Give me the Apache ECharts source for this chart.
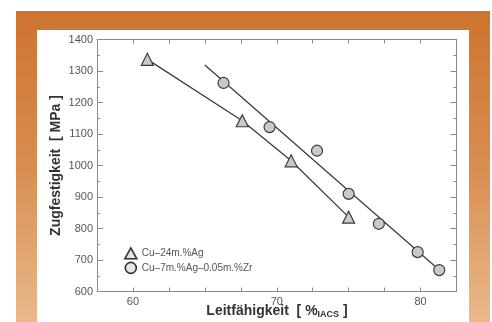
<!DOCTYPE html>
<html>
<head>
<meta charset="utf-8">
<script src="https://cdn.jsdelivr.net/npm/echarts@6/dist/echarts.min.js"></script>
<style>
html,body{margin:0;padding:0;background:#fff;}
#frame{position:absolute;left:16px;top:11px;width:474px;height:311px;background:linear-gradient(to bottom,#CE742E 0%,#D98D50 50%,#E9B98C 100%);}
#panel{position:absolute;left:37px;top:30px;width:432px;height:292px;background:#fff;}
#chart{position:absolute;left:0;top:0;width:492px;height:322px;}
</style>
</head>
<body>
<div id="frame"></div>
<div id="panel"></div>
<div id="chart"></div>
<script>
// Data
const agLabel = 'Cu\u201324m.%Ag';
const zrLabel = 'Cu\u20137m.%Ag\u20130.05m.%Zr';
const agX = [61.0, 67.6, 71.0, 75.0];
const agY = [1337, 1142, 1015, 836];
const zrX = [66.3, 69.5, 72.8, 75.0, 77.1, 79.8, 81.3];
const zrY = [1262, 1122, 1047, 910, 815, 725, 668];
const zrFitX = [65.0, 81.3];
const zrFitY = [1319, 668];
const xTicks = [60, 70, 80];
const yTicks = [600, 700, 800, 900, 1000, 1100, 1200, 1300, 1400];
const xTitle = 'Leitf\u00e4higkeit  [ %{sub|IACS} ]';
const yTitle = 'Zugfestigkeit  [ MPa ]';

const pairs = (xs, ys) => xs.map((x, i) => [x, ys[i]]);

const chart = echarts.init(document.getElementById('chart'), null, {renderer: 'canvas'});
const axisCol = '#8a8a8a';
const labelCol = '#555';
const markFill = '#c9c9c9';
const markLine = '#3c3c3c';
const font = 'Liberation Sans, Arial, sans-serif';

const xBase = {
  type: 'value', min: 57.5, max: 82.5, interval: 2.5,
  axisLine: {show: true, lineStyle: {color: axisCol, width: 1}},
  axisTick: {show: true, inside: true, length: 4, lineStyle: {color: axisCol}},
  splitLine: {show: false}
};
const yBase = {
  type: 'value', min: 600, max: 1400, interval: 100,
  axisLine: {show: true, lineStyle: {color: axisCol, width: 1}},
  axisTick: {show: true, inside: true, length: 6, lineStyle: {color: axisCol}},
  minorTick: {show: true, splitNumber: 2, length: 3, lineStyle: {color: axisCol}},
  splitLine: {show: false}
};

chart.setOption({
  backgroundColor: 'transparent',
  animation: false,
  grid: {left: 97, top: 39.5, right: 35.5, bottom: 30.5, containLabel: false, outerBoundsMode: 'none'},
  graphic: [{
    type: 'text', x: 277, y: 311, z: 10,
    style: {
      text: xTitle, align: 'center', verticalAlign: 'middle',
      fontSize: 14, fontWeight: 'bold', fill: '#333', fontFamily: font,
      rich: {sub: {fontSize: 9, fontWeight: 'bold', fill: '#333', fontFamily: font, verticalAlign: 'bottom', padding: [7, 0, 0, 0]}}
    }
  }],
  legend: {
    left: 119, top: 242, orient: 'vertical', itemGap: 2,
    itemWidth: 12, itemHeight: 11,
    textStyle: {fontSize: 10, color: labelCol, fontFamily: font},
    data: [
      {name: agLabel, icon: 'triangle', itemStyle: {color: '#e6e6e6', borderColor: '#333', borderWidth: 1.6}},
      {name: zrLabel, icon: 'circle', itemStyle: {color: '#e6e6e6', borderColor: '#333', borderWidth: 1.6}}
    ]
  },
  xAxis: [
    Object.assign({}, xBase, {
      position: 'bottom',
      axisLabel: {show: true, customValues: xTicks, hideOverlap: false, fontSize: 11, color: labelCol, fontFamily: font, margin: 5,
        formatter: v => String(v)}
    }),
    Object.assign({}, xBase, {position: 'top', axisLabel: {show: false}})
  ],
  yAxis: [
    Object.assign({}, yBase, {
      position: 'left',
      name: yTitle,
      nameLocation: 'middle', nameGap: 34, nameRotate: 90, nameMoveOverlap: false,
      nameTextStyle: {fontSize: 14, fontWeight: 'bold', color: '#333', fontFamily: font},
      axisLabel: {show: true, fontSize: 11, color: labelCol, fontFamily: font, margin: 4,
        formatter: v => yTicks.includes(v) ? String(v) : ''}
    }),
    Object.assign({}, yBase, {position: 'right', axisLabel: {show: false}})
  ],
  series: [
    {
      name: agLabel, type: 'line', xAxisIndex: 0, yAxisIndex: 0,
      data: pairs(agX, agY),
      symbol: 'triangle', symbolSize: 12,
      lineStyle: {color: markLine, width: 1.3},
      itemStyle: {color: markFill, borderColor: markLine, borderWidth: 1.2},
      z: 3
    },
    {
      name: 'zrFit', type: 'line', xAxisIndex: 0, yAxisIndex: 0,
      data: pairs(zrFitX, zrFitY),
      symbol: 'none', lineStyle: {color: markLine, width: 1.3}, z: 2
    },
    {
      name: zrLabel, type: 'scatter', xAxisIndex: 0, yAxisIndex: 0,
      data: pairs(zrX, zrY),
      symbol: 'circle', symbolSize: 11,
      itemStyle: {color: markFill, borderColor: markLine, borderWidth: 1.2, opacity: 1},
      z: 4
    }
  ]
});
</script>
</body>
</html>
